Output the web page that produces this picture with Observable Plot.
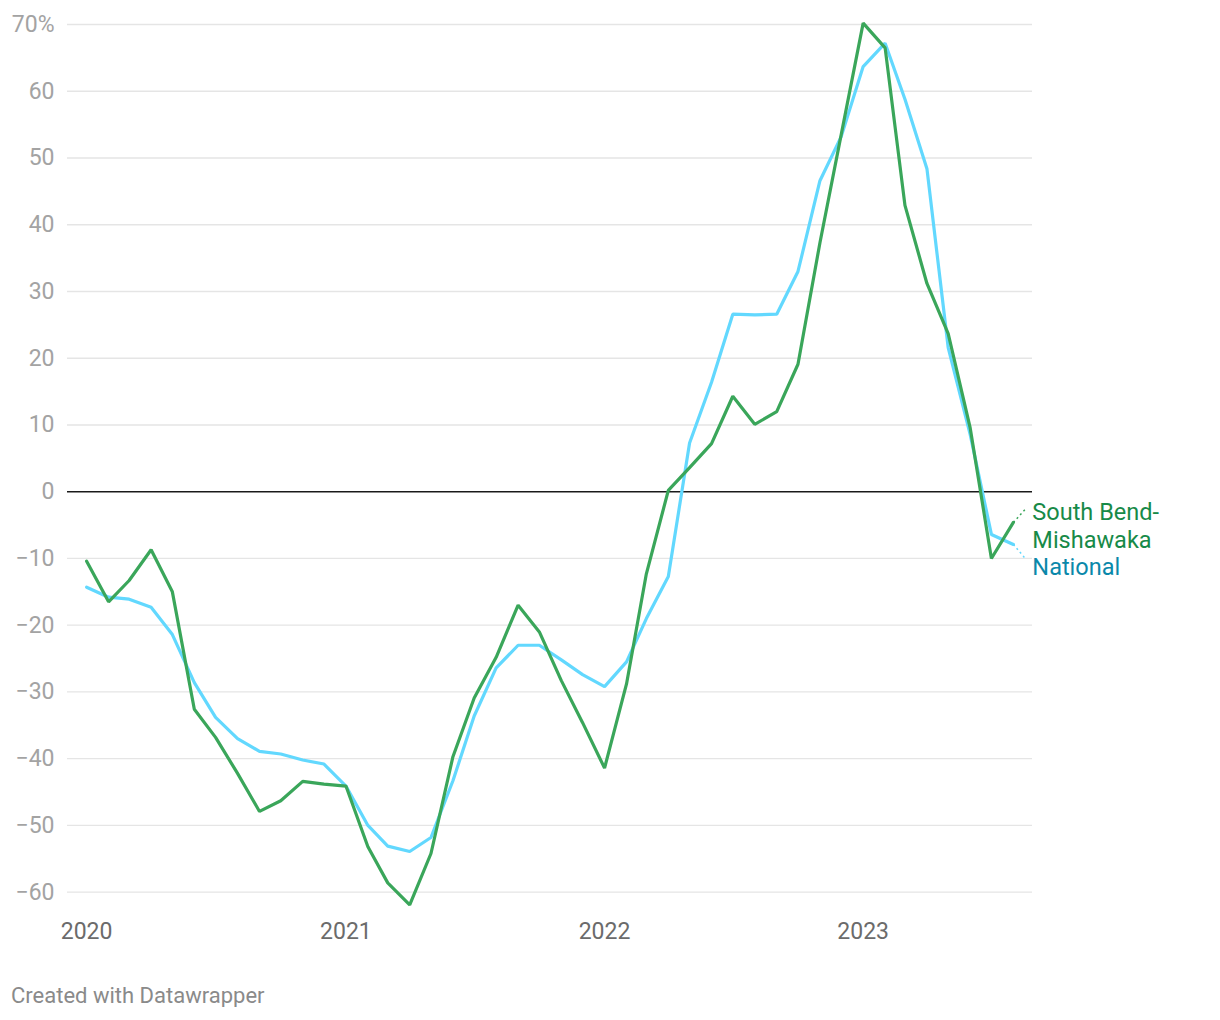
<!DOCTYPE html>
<html><head><meta charset="utf-8">
<script src="https://cdn.jsdelivr.net/npm/d3@7"></script>
<script src="https://cdn.jsdelivr.net/npm/@observablehq/plot@0.6"></script>
<style>
body{margin:0;background:#fff;font-family:Roboto,sans-serif;}
svg{display:block}
#caption{margin:10px 0 0 11px;font-size:22px;line-height:22px;color:#8a8a8a;font-family:Roboto,sans-serif;}
</style></head><body>
<div id="chart"></div>
<div id="caption">Created with Datawrapper</div>
<script>
const months = [
  "2020-01","2020-02","2020-03","2020-04","2020-05","2020-06","2020-07","2020-08","2020-09","2020-10","2020-11","2020-12",
  "2021-01","2021-02","2021-03","2021-04","2021-05","2021-06","2021-07","2021-08","2021-09","2021-10","2021-11","2021-12",
  "2022-01","2022-02","2022-03","2022-04","2022-05","2022-06","2022-07","2022-08","2022-09","2022-10","2022-11","2022-12",
  "2023-01","2023-02","2023-03","2023-04","2023-05","2023-06","2023-07","2023-08"
];
const southBend = [
  -10.4,-16.5,-13.3,-8.7,-15.0,-32.6,-36.8,-42.2,-47.9,-46.3,-43.4,-43.8,
  -44.1,-53.2,-58.6,-61.9,-54.2,-39.7,-30.9,-24.8,-17.0,-21.0,-28.3,-34.6,
  -41.4,-28.8,-12.3,0.2,3.6,7.2,14.3,10.1,12.0,19.1,37.3,53.5,
  70.2,66.5,42.9,31.2,23.7,9.6,-10.0,-4.6
];
const national = [
  -14.3,-15.8,-16.1,-17.3,-21.4,-28.6,-33.8,-37.0,-38.9,-39.3,-40.2,-40.8,
  -44.1,-50.0,-53.1,-53.9,-51.8,-43.3,-33.6,-26.4,-23.0,-23.0,-25.2,-27.4,
  -29.2,-25.5,-19.0,-12.7,7.3,16.4,26.6,26.5,26.6,33.0,46.6,53.2,
  63.7,67.2,58.8,48.4,21.6,8.6,-6.4,-7.9
];
const yTicks = [-60,-50,-40,-30,-20,-10,0,10,20,30,40,50,60,70];
const yearTicks = ["2020","2021","2022","2023"];
const seriesNames = {sb: "South Bend-\nMishawaka", nat: "National"};

const rows = months.map((m, i) => ({date: new Date(m + "-01T00:00:00Z"), sb: southBend[i], nat: national[i]}));
const last = rows[rows.length - 1];
const yearDates = yearTicks.map(y => new Date(y + "-01-01T00:00:00Z"));

const GREEN = "#3aa65a", BLUE = "#62d8fe";

const chart = Plot.plot({
  width: 1220, height: 975,
  marginLeft: 67, marginRight: 188, marginTop: 24, marginBottom: 83.3,
  x: {type: "utc", domain: [d3.utcDay.offset(rows[0].date, -27), d3.utcDay.offset(last.date, 27)]},
  y: {domain: [-60, 70]},
  style: {fontFamily: "Roboto", fontSize: "23px", background: "#fff"},
  marks: [
    Plot.ruleY(yTicks.filter(d => d !== 0), {stroke: "#e5e5e5", strokeWidth: 1.3}),
    Plot.ruleY([0], {stroke: "#1a1a1a", strokeWidth: 1.5}),
    Plot.axisY({ticks: yTicks, tickSize: 0, tickPadding: 13, label: null, color: "#a3a3a3",
      tickFormat: d => d === 70 ? "70%" : d < 0 ? "\u2212" + (-d) : String(d)}),
    Plot.axisX({ticks: yearDates, tickSize: 0, tickPadding: 30, label: null, color: "#6b6b6b",
      tickFormat: d3.utcFormat("%Y")}),
    Plot.line(rows, {x: "date", y: "nat", stroke: BLUE, strokeWidth: 3.2, strokeLinejoin: "miter"}),
    Plot.line(rows, {x: "date", y: "sb", stroke: GREEN, strokeWidth: 3.2, strokeLinejoin: "miter"}),
    Plot.link([last], {x1: "date", y1: "sb", x2: d => d3.utcDay.offset(d.date, 18), y2: d => d.sb + 2.1,
      stroke: GREEN, strokeWidth: 1.5, strokeDasharray: "2 3"}),
    Plot.link([last], {x1: "date", y1: "nat", x2: d => d3.utcDay.offset(d.date, 18), y2: d => d.nat - 2.25,
      stroke: BLUE, strokeWidth: 1.5, strokeDasharray: "2 3"}),
    Plot.text([last], {x: "date", y: "sb", text: () => seriesNames.sb, dx: 19, dy: -22,
      textAnchor: "start", lineAnchor: "top", lineHeight: 1.19, fill: "#178a48", fontSize: 23.5}),
    Plot.text([last], {x: "date", y: "nat", text: () => seriesNames.nat, dx: 19, dy: 13.4,
      textAnchor: "start", lineAnchor: "top", fill: "#0a88aa", fontSize: 23.5})
  ]
});
document.getElementById("chart").appendChild(chart);
</script>
</body></html>
